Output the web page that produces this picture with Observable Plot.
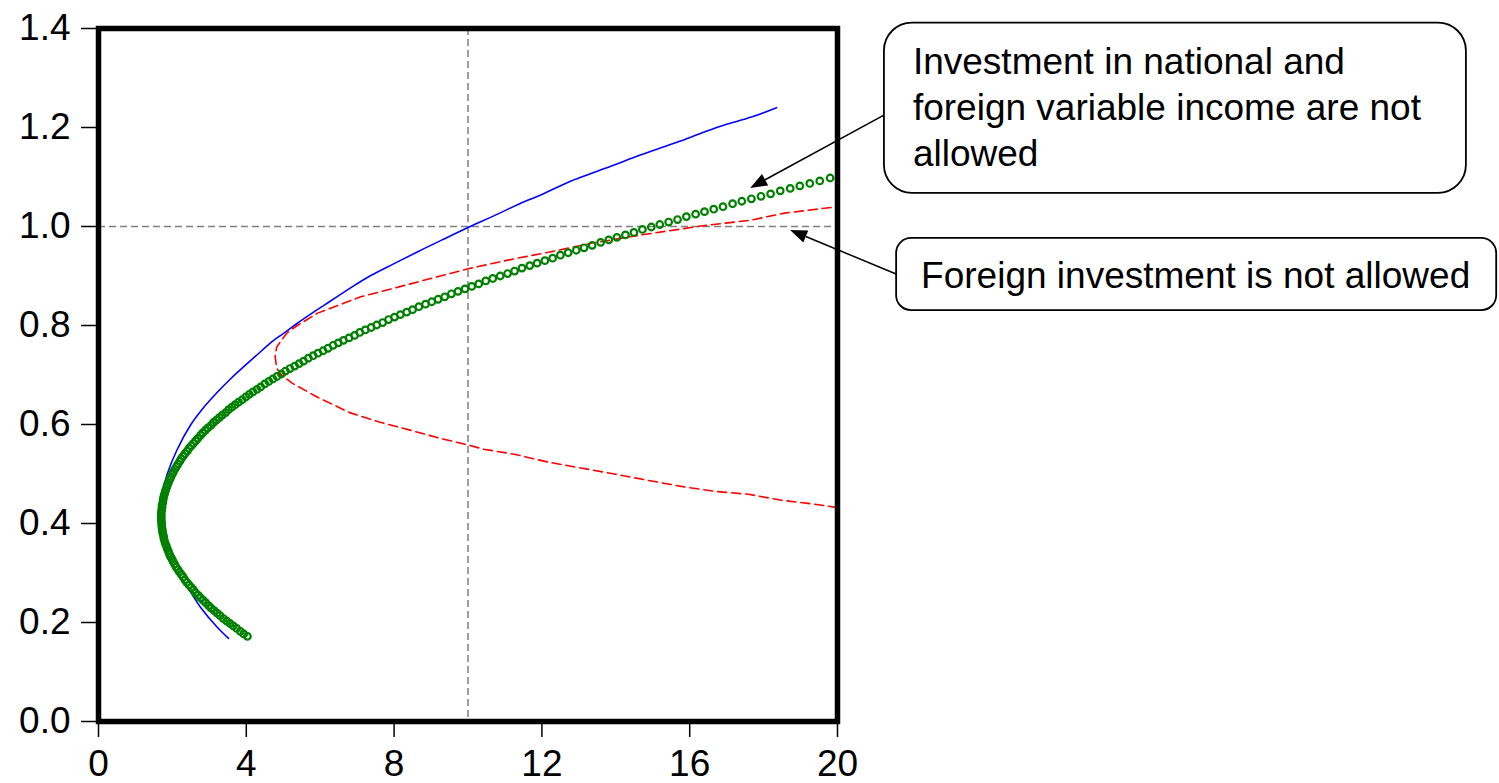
<!DOCTYPE html>
<html><head><meta charset="utf-8">
<script src="https://cdn.jsdelivr.net/npm/d3@7"></script>
<script src="https://cdn.jsdelivr.net/npm/@observablehq/plot@0.6"></script>
<style>
html,body{margin:0;padding:0;background:#fff;}
#chart{position:absolute;left:0;top:0;}
</style></head><body><div id="chart"></div>
<script>
// ---- tick labels ----
const xTicks = [0, 4, 8, 12, 16, 20];
const yTicks = [0.0, 0.2, 0.4, 0.6, 0.8, 1.0, 1.2, 1.4];
const refX = [10];
const refY = [1.0];

// ---- blue solid frontier ----
const blueX = [3.52,3.22,2.76,2.41,2.00,1.80,1.68,1.65,1.70,1.86,2.12,2.50,2.83,3.19,3.57,4.25,4.74,5.01,5.39,5.80,6.29,6.80,7.37,8.00,8.64,9.30,10.03,10.80,11.40,11.98,12.79,13.33,13.88,14.61,15.15,15.69,16.40,16.94,17.67,18.35];
const blueY = [0.168,0.190,0.231,0.271,0.315,0.355,0.395,0.420,0.455,0.500,0.548,0.600,0.633,0.663,0.692,0.738,0.770,0.784,0.805,0.826,0.850,0.875,0.901,0.925,0.949,0.973,0.999,1.025,1.046,1.064,1.092,1.107,1.122,1.143,1.157,1.171,1.191,1.205,1.221,1.240];

// ---- red dashed frontier (foreign investment not allowed) ----
const redX = [20.00,19.38,18.48,17.59,16.67,15.77,14.88,13.96,13.06,12.17,11.25,10.43,10.03,9.20,8.46,7.60,6.80,5.93,5.25,4.95,4.82,4.78,4.82,4.93,5.10,5.38,5.93,7.10,8.64,10.03,11.20,12.25,13.40,14.69,16.31,17.67,18.56,20.00];
const redY = [0.432,0.439,0.447,0.459,0.465,0.475,0.487,0.500,0.512,0.524,0.540,0.550,0.558,0.573,0.588,0.605,0.624,0.655,0.683,0.700,0.714,0.738,0.756,0.768,0.785,0.800,0.825,0.858,0.888,0.915,0.934,0.949,0.967,0.983,1.001,1.013,1.027,1.040];

// ---- green circles (national and foreign variable income not allowed) ----
const greenX = [
4.03,3.93,3.84,3.74,3.65,3.56,3.47,3.38,3.29,3.21,
3.13,3.05,2.98,2.90,2.83,2.76,2.70,2.63,2.57,2.51,
2.45,2.39,2.34,2.29,2.24,2.19,2.15,2.10,2.06,2.02,
1.99,1.95,1.92,1.89,1.86,1.84,1.81,1.79,1.77,1.76,
1.74,1.73,1.72,1.71,1.71,1.70,1.70,1.70,1.70,1.71,
1.72,1.72,1.74,1.75,1.76,1.78,1.80,1.82,1.85,1.87,
1.90,1.93,1.96,2.00,2.03,2.07,2.11,2.15,2.20,2.24,
2.29,2.34,2.40,2.45,2.51,2.57,2.63,2.69,2.76,2.82,
2.89,2.96,3.04,3.11,3.19,3.27,3.35,3.44,3.52,3.61,
3.70,3.79,3.89,3.99,4.08,4.18,4.29,4.39,4.50,4.61,
4.72,4.83,4.95,5.06,5.18,5.31,5.43,5.55,5.68,5.81,
5.94,6.08,6.21,6.35,6.49,6.63,6.78,6.93,7.07,7.22,
7.38,7.53,7.69,7.85,8.01,8.17,8.34,8.50,8.67,8.85,
9.02,9.19,9.37,9.55,9.73,9.92,10.10,10.29,10.48,10.67,
10.87,11.07,11.26,11.46,11.67,11.87,12.08,12.29,12.50,12.71,
12.93,13.14,13.36,13.59,13.81,14.03,14.26,14.49,14.72,14.96,
15.19,15.43,15.67,15.91,16.16,16.40,16.65,16.90,17.16,17.41,
17.67,17.93,18.19,18.45,18.72,18.98,19.25,19.52,19.80];
const greenY = [
0.172,0.177,0.182,0.188,0.193,0.198,0.203,0.208,0.214,0.219,
0.224,0.229,0.234,0.240,0.245,0.250,0.255,0.260,0.266,0.271,
0.276,0.281,0.286,0.292,0.297,0.302,0.307,0.312,0.318,0.323,
0.328,0.333,0.338,0.344,0.349,0.354,0.359,0.364,0.370,0.375,
0.380,0.385,0.390,0.396,0.401,0.406,0.411,0.416,0.422,0.427,
0.432,0.437,0.442,0.448,0.453,0.458,0.463,0.468,0.474,0.479,
0.484,0.489,0.494,0.500,0.505,0.510,0.515,0.520,0.526,0.531,
0.536,0.541,0.546,0.552,0.557,0.562,0.567,0.572,0.578,0.583,
0.588,0.593,0.598,0.604,0.609,0.614,0.619,0.624,0.630,0.635,
0.640,0.645,0.650,0.656,0.661,0.666,0.671,0.676,0.682,0.687,
0.692,0.697,0.702,0.708,0.713,0.718,0.723,0.728,0.734,0.739,
0.744,0.749,0.754,0.760,0.765,0.770,0.775,0.780,0.786,0.791,
0.796,0.801,0.806,0.812,0.817,0.822,0.827,0.832,0.838,0.843,
0.848,0.853,0.858,0.864,0.869,0.874,0.879,0.884,0.890,0.895,
0.900,0.905,0.910,0.916,0.921,0.926,0.931,0.936,0.942,0.947,
0.952,0.957,0.962,0.968,0.973,0.978,0.983,0.988,0.994,0.999,
1.004,1.009,1.014,1.020,1.025,1.030,1.035,1.040,1.046,1.051,
1.056,1.061,1.066,1.072,1.077,1.082,1.087,1.092,1.098];

// ---- callout texts ----
const note1Lines = ["Investment in national and", "foreign variable income are not", "allowed"];
const note2Lines = ["Foreign investment is not allowed"];

const blue = blueX.map((x, i) => ({x, y: blueY[i]}));
const red = redX.map((x, i) => ({x, y: redY[i]}));
const green = greenX.map((x, i) => ({x, y: greenY[i]}));

// annotation layout (in data units, placed through the chart's scales)
const notes = [
  {lines: note1Lines, x1: 21.27, x2: 37.02, yTop: 1.411, yBottom: 1.067, fromY: 1.224, tipX: 17.65, tipY: 1.077, r: 28, padX: 29, base: 51},
  {lines: note2Lines, x1: 21.60, x2: 37.84, yTop: 0.976, yBottom: 0.830, fromY: 0.903, tipX: 18.73, tipY: 0.992, r: 15, padX: 25, base: 50}
];

const FONT = "'Liberation Sans', Arial, Helvetica, sans-serif";

function calloutMark(index, scales) {
  const sx = scales.x, sy = scales.y;
  const g = d3.create("svg:g").attr("font-family", FONT).attr("font-size", 37)
    .attr("fill", "black").attr("text-anchor", "start");
  for (const c of notes) {
    const bx = sx(c.x1), bw = sx(c.x2) - sx(c.x1), by = sy(c.yTop), bh = sy(c.yBottom) - sy(c.yTop);
    const x0 = bx, y0 = sy(c.fromY), x1 = sx(c.tipX), y1 = sy(c.tipY);
    const a = Math.atan2(y1 - y0, x1 - x0), L = 17, W = 6.5;
    const hx = x1 - L * Math.cos(a), hy = y1 - L * Math.sin(a);
    g.append("line").attr("x1", x0).attr("y1", y0).attr("x2", hx).attr("y2", hy)
      .attr("stroke", "black").attr("stroke-width", 1.5);
    g.append("path").attr("d", `M${x1},${y1}L${hx + W * Math.sin(a)},${hy - W * Math.cos(a)}L${hx - W * Math.sin(a)},${hy + W * Math.cos(a)}Z`)
      .attr("fill", "black");
    g.append("rect").attr("x", bx).attr("y", by).attr("width", bw).attr("height", bh)
      .attr("rx", c.r).attr("ry", c.r).attr("fill", "white").attr("stroke", "black").attr("stroke-width", 1.8);
    c.lines.forEach((t, i) => {
      g.append("text").attr("text-anchor", "start").attr("x", bx + c.padX).attr("y", by + c.base + i * 46).text(t);
    });
  }
  return g.node();
}

const plot = Plot.plot({
  width: 1499,
  height: 783,
  marginLeft: 98,
  marginRight: 662,
  marginTop: 28,
  marginBottom: 62,
  style: {fontFamily: FONT, fontSize: "37px", background: "white", color: "black", overflow: "visible"},
  x: {domain: [0, 20], ticks: xTicks, tickFormat: d => String(d), tickSize: 16, tickPadding: 12, label: null},
  y: {domain: [0, 1.4], ticks: yTicks, tickFormat: d => d.toFixed(1), tickSize: 17, tickPadding: 11, label: null},
  marks: [
    Plot.ruleX(refX, {x: d => d, stroke: "#808080", strokeWidth: 1.5, strokeDasharray: "7,4"}),
    Plot.ruleY(refY, {y: d => d, stroke: "#808080", strokeWidth: 1.5, strokeDasharray: "7,4"}),
    Plot.line(blue, {x: "x", y: "y", stroke: "#0000ff", strokeWidth: 1.6, curve: "catmull-rom", clip: true}),
    Plot.line(red, {x: "x", y: "y", stroke: "#ff0000", strokeWidth: 1.6, strokeDasharray: "9,5", clip: true}),
    Plot.dot(green, {x: "x", y: "y", r: 3.3, stroke: "#008000", strokeWidth: 2.2, fill: "none", clip: true}),
    calloutMark,
    Plot.frame({stroke: "black", strokeWidth: 5.5})
  ]
});

document.getElementById("chart").appendChild(plot);
const svg = d3.select(plot.tagName.toLowerCase() === "svg" ? plot : plot.querySelector("svg"));
svg.selectAll('g[aria-label^="x-axis"] text').attr("font-size", 37);
svg.selectAll('g[aria-label^="y-axis"] text').attr("font-size", 37);
svg.selectAll('g[aria-label^="x-axis"] line, g[aria-label^="y-axis"] line, g[aria-label^="x-axis"] path, g[aria-label^="y-axis"] path').attr("stroke-width", 1.5);
</script>
</body></html>
